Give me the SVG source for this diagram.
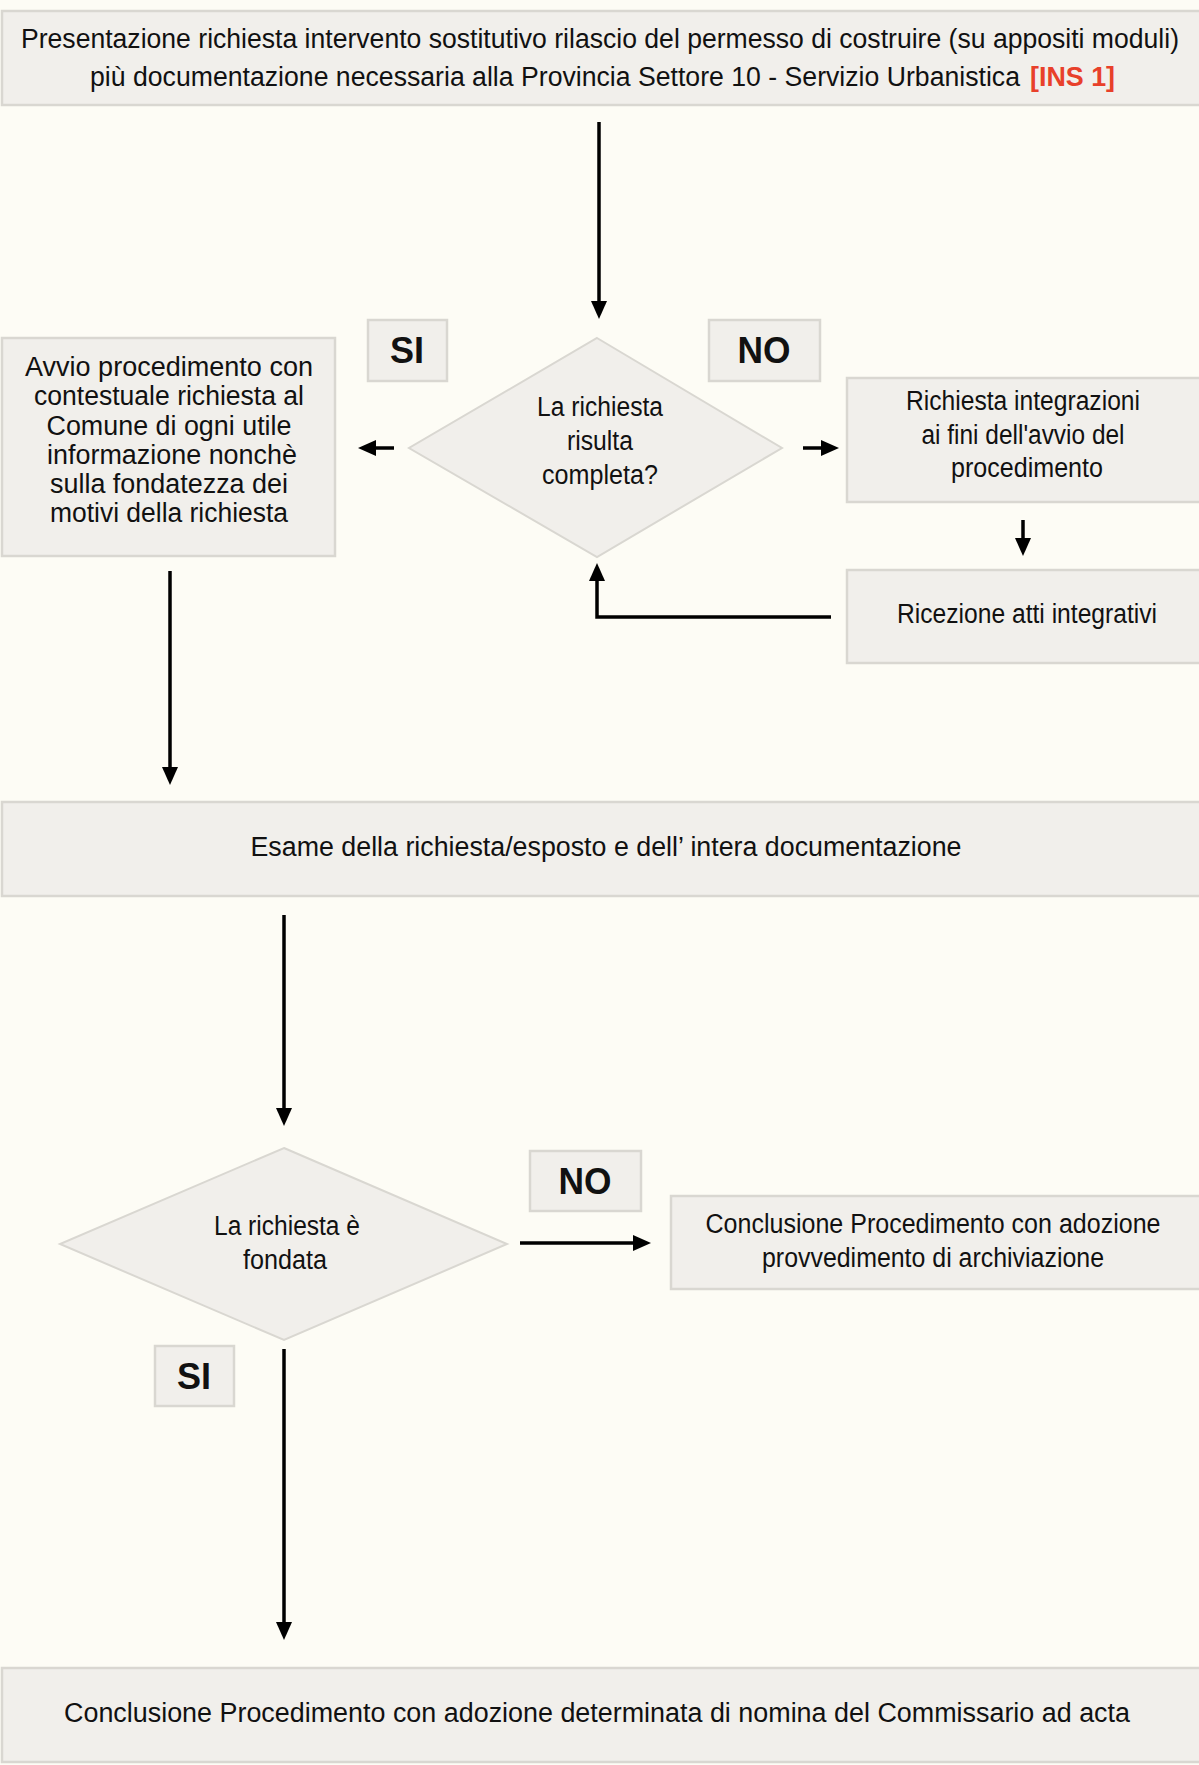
<svg xmlns="http://www.w3.org/2000/svg" width="1199" height="1765" viewBox="0 0 1199 1765">
<style>
.bg{fill:#fdfcf5}
.box{fill:#f1efeb;stroke:#d9d7d1;stroke-width:2.5}
.dia{fill:#f1efeb;stroke:#d9d7d1;stroke-width:2}
.t{font-family:"Liberation Sans",Arial,sans-serif;font-size:27px;fill:#111;text-anchor:middle}
.s{text-anchor:start}
.lbl{font-family:"Liberation Sans",Arial,sans-serif;font-size:36px;font-weight:bold;fill:#111;text-anchor:middle}
.red{fill:#e8402a;font-weight:bold}
.c{fill:none;stroke:#000;stroke-width:3.5}
</style>
<defs>
<marker id="ah" markerUnits="userSpaceOnUse" markerWidth="18" markerHeight="16" refX="13" refY="8" orient="auto">
<path d="M0,0 L18,8 L0,16 z" fill="#000"/>
</marker>
</defs>
<rect class="bg" x="0" y="0" width="1199" height="1765"/>

<g id="n-presentazione">
<rect class="box" x="2" y="11" width="1200" height="94"/>
<text class="t" x="600" y="48" textLength="1158" lengthAdjust="spacingAndGlyphs">Presentazione richiesta intervento sostitutivo rilascio del permesso di costruire (su appositi moduli)</text>
<text class="t s" x="90" y="86" textLength="930" lengthAdjust="spacingAndGlyphs">più documentazione necessaria alla Provincia Settore 10 - Servizio Urbanistica</text>
<text class="t s red" x="1030" y="86" textLength="85" lengthAdjust="spacingAndGlyphs">[INS 1]</text>
</g>

<g id="n-completa">
<polygon class="dia" points="597,338 782,448 597,557 409,448"/>
<text class="t" x="600" y="416" textLength="126" lengthAdjust="spacingAndGlyphs">La richiesta</text>
<text class="t" x="600" y="450" textLength="66" lengthAdjust="spacingAndGlyphs">risulta</text>
<text class="t" x="600" y="484" textLength="116" lengthAdjust="spacingAndGlyphs">completa?</text>
</g>

<g id="l-si1">
<rect class="box" x="368" y="320" width="79" height="61"/>
<text class="lbl" x="407" y="363" textLength="34" lengthAdjust="spacingAndGlyphs">SI</text>
</g>
<g id="l-no1">
<rect class="box" x="709" y="320" width="111" height="61"/>
<text class="lbl" x="764" y="363" textLength="53" lengthAdjust="spacingAndGlyphs">NO</text>
</g>

<g id="n-avvio">
<rect class="box" x="2" y="338" width="333" height="218"/>
<text class="t" x="169" y="376" textLength="288" lengthAdjust="spacingAndGlyphs">Avvio procedimento con</text>
<text class="t" x="169" y="405" textLength="270" lengthAdjust="spacingAndGlyphs">contestuale richiesta al</text>
<text class="t" x="169" y="435" textLength="245" lengthAdjust="spacingAndGlyphs">Comune di ogni utile</text>
<text class="t" x="172" y="464" textLength="250" lengthAdjust="spacingAndGlyphs">informazione nonchè</text>
<text class="t" x="169" y="493" textLength="238" lengthAdjust="spacingAndGlyphs">sulla fondatezza dei</text>
<text class="t" x="169" y="522" textLength="238" lengthAdjust="spacingAndGlyphs">motivi della richiesta</text>
</g>

<g id="n-integrazioni">
<rect class="box" x="847" y="378" width="355" height="124"/>
<text class="t" x="1023" y="410" textLength="234" lengthAdjust="spacingAndGlyphs">Richiesta integrazioni</text>
<text class="t" x="1023" y="444" textLength="203" lengthAdjust="spacingAndGlyphs">ai fini dell'avvio del</text>
<text class="t" x="1027" y="477" textLength="152" lengthAdjust="spacingAndGlyphs">procedimento</text>
</g>

<g id="n-ricezione">
<rect class="box" x="847" y="570" width="355" height="93"/>
<text class="t" x="1027" y="623" textLength="260" lengthAdjust="spacingAndGlyphs">Ricezione atti integrativi</text>
</g>

<g id="n-esame">
<rect class="box" x="2" y="802" width="1200" height="94"/>
<text class="t" x="606" y="856" textLength="711" lengthAdjust="spacingAndGlyphs">Esame della richiesta/esposto e dell’ intera documentazione</text>
</g>

<g id="n-fondata">
<polygon class="dia" points="284,1148 507,1244 284,1340 60,1244"/>
<text class="t" x="287" y="1235" textLength="146" lengthAdjust="spacingAndGlyphs">La richiesta è</text>
<text class="t" x="285" y="1269" textLength="84" lengthAdjust="spacingAndGlyphs">fondata</text>
</g>

<g id="l-no2">
<rect class="box" x="530" y="1151" width="111" height="60"/>
<text class="lbl" x="585" y="1194" textLength="53" lengthAdjust="spacingAndGlyphs">NO</text>
</g>

<g id="n-archiviazione">
<rect class="box" x="671" y="1196" width="531" height="93"/>
<text class="t" x="933" y="1233" textLength="455" lengthAdjust="spacingAndGlyphs">Conclusione Procedimento con adozione</text>
<text class="t" x="933" y="1267" textLength="342" lengthAdjust="spacingAndGlyphs">provvedimento di archiviazione</text>
</g>

<g id="l-si2">
<rect class="box" x="155" y="1346" width="79" height="60"/>
<text class="lbl" x="194" y="1389" textLength="34" lengthAdjust="spacingAndGlyphs">SI</text>
</g>

<g id="n-commissario">
<rect class="box" x="2" y="1668" width="1200" height="94"/>
<text class="t" x="597" y="1722" textLength="1066" lengthAdjust="spacingAndGlyphs">Conclusione Procedimento con adozione determinata di nomina del Commissario ad acta</text>
</g>

<g id="connectors">
<line class="c" x1="599" y1="122" x2="599" y2="314" marker-end="url(#ah)"/>
<line class="c" x1="394" y1="448" x2="363" y2="448" marker-end="url(#ah)"/>
<line class="c" x1="803" y1="448" x2="834" y2="448" marker-end="url(#ah)"/>
<line class="c" x1="1023" y1="520" x2="1023" y2="551" marker-end="url(#ah)"/>
<polyline class="c" points="831,617 597,617 597,568" marker-end="url(#ah)"/>
<line class="c" x1="170" y1="571" x2="170" y2="780" marker-end="url(#ah)"/>
<line class="c" x1="284" y1="915" x2="284" y2="1121" marker-end="url(#ah)"/>
<line class="c" x1="520" y1="1243" x2="646" y2="1243" marker-end="url(#ah)"/>
<line class="c" x1="284" y1="1349" x2="284" y2="1635" marker-end="url(#ah)"/>
</g>
</svg>
